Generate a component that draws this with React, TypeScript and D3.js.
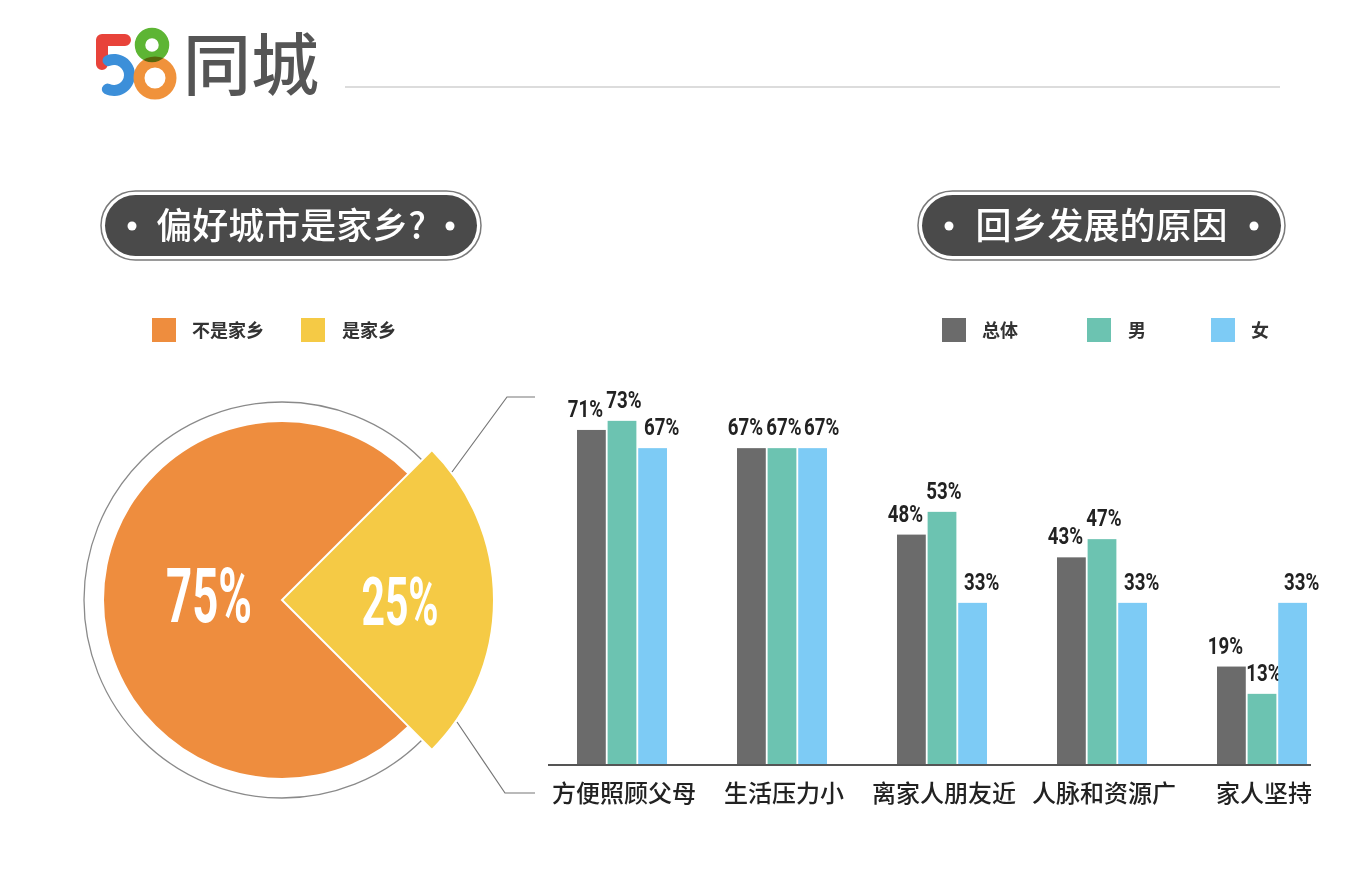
import React, { useRef, useEffect } from "react";
import * as d3 from "d3";

// pie: preferred city is hometown?
const pieLabels = ["不是家乡", "是家乡"];
const pieValues = [75, 25];
const pieColors = ["#ee8d3e", "#f5ca45"];

// bars: reasons for going back home
const categories = ["方便照顾父母", "生活压力小", "离家人朋友近", "人脉和资源广", "家人坚持"];
const seriesNames = ["总体", "男", "女"];
const seriesColors = ["#6b6b6b", "#6cc3b1", "#7dcbf5"];
const totalValues = [71, 67, 48, 43, 19];
const maleValues = [73, 67, 53, 47, 13];
const femaleValues = [67, 67, 33, 33, 33];

const NUM_FONT = "'Roboto', 'DejaVu Sans', sans-serif";
const CJK_FONT = "'Noto Sans CJK SC', 'Noto Sans', sans-serif";

type Sel = d3.Selection<any, unknown, null, undefined>;

// condensed number text: squeeze horizontally around its anchor
function numText(parent: Sel, x: number, y: number, txt: string, size: number, sx: number, fill: string, weight = "bold") {
    parent.append("g")
        .attr("transform", `translate(${x},${y}) scale(${sx},1)`)
        .append("text")
        .attr("text-anchor", "middle")
        .attr("font-family", NUM_FONT)
        .attr("font-weight", weight)
        .attr("font-size", size)
        .attr("fill", fill)
        .text(txt);
}

export default function App() {
    const svgRef = useRef<SVGSVGElement | null>(null);

    useEffect(() => {
        if (!svgRef.current) return;
        const width = 1368;
        const height = 878;
        const svg = d3.select(svgRef.current);
        svg.selectAll("*").remove();

        svg.append("rect").attr("width", width).attr("height", height).attr("fill", "#fff");

        // ---------- logo ----------
        const logo = svg.append("g");
        // "5": red L on top, blue bowl below
        logo.append("path")
            .attr("d", "M125,40 L102,40 L102,64")
            .attr("fill", "none").attr("stroke", "#e8433a").attr("stroke-width", 12)
            .attr("stroke-linecap", "round").attr("stroke-linejoin", "round");
        const bowl = d3.arc<any>().innerRadius(10).outerRadius(21).cornerRadius(5);
        logo.append("path")
            .attr("transform", "translate(114,75)")
            .attr("d", bowl({ startAngle: (-42 * Math.PI) / 180, endAngle: (225 * Math.PI) / 180 }) as string)
            .attr("fill", "#3c8fd9");
        // "8": orange bottom ring, green top ring
        logo.append("circle").attr("cx", 155).attr("cy", 78).attr("r", 16)
            .attr("fill", "none").attr("stroke", "#f0923b").attr("stroke-width", 11);
        logo.append("circle").attr("cx", 152).attr("cy", 45).attr("r", 12)
            .attr("fill", "none").attr("stroke", "#5db534").attr("stroke-width", 10.5)
            .style("mix-blend-mode", "multiply");
        logo.append("text")
            .attr("x", 183).attr("y", 90)
            .attr("font-family", CJK_FONT)
            .attr("font-weight", 500)
            .attr("font-size", 68)
            .attr("fill", "#555")
            .text("同城");
        svg.append("line")
            .attr("x1", 345).attr("x2", 1280).attr("y1", 87).attr("y2", 87)
            .attr("stroke", "#d0d0d0").attr("stroke-width", 1.5);

        // ---------- header pills ----------
        const pills = [
            { text: "偏好城市是家乡?", x: 101, w: 380 },
            { text: "回乡发展的原因", x: 918, w: 367 },
        ];
        pills.forEach((p) => {
            const g = svg.append("g");
            g.append("rect")
                .attr("x", p.x).attr("y", 191).attr("width", p.w).attr("height", 69)
                .attr("rx", 34.5).attr("fill", "#fff").attr("stroke", "#7a7a7a").attr("stroke-width", 1.5);
            g.append("rect")
                .attr("x", p.x + 4).attr("y", 195).attr("width", p.w - 8).attr("height", 61)
                .attr("rx", 30.5).attr("fill", "#4a4a4a");
            g.append("circle").attr("cx", p.x + 31).attr("cy", 226).attr("r", 4.5).attr("fill", "#fff");
            g.append("circle").attr("cx", p.x + p.w - 31).attr("cy", 226).attr("r", 4.5).attr("fill", "#fff");
            g.append("text")
                .attr("x", p.x + p.w / 2).attr("y", 239)
                .attr("text-anchor", "middle")
                .attr("font-family", CJK_FONT)
                .attr("font-weight", 500)
                .attr("font-size", 36)
                .attr("fill", "#fff")
                .text(p.text);
        });

        // ---------- legends ----------
        const legendL = [
            { x: 152, tx: 192 },
            { x: 301, tx: 342 },
        ];
        pieLabels.forEach((lab, i) => {
            svg.append("rect").attr("x", legendL[i].x).attr("y", 318).attr("width", 24).attr("height", 24)
                .attr("fill", pieColors[i]);
            svg.append("text").attr("x", legendL[i].tx).attr("y", 337)
                .attr("font-family", CJK_FONT).attr("font-weight", "bold").attr("font-size", 18)
                .attr("fill", "#333").text(lab);
        });
        const legendR = [
            { x: 942, tx: 982 },
            { x: 1087, tx: 1128 },
            { x: 1211, tx: 1251 },
        ];
        seriesNames.forEach((lab, i) => {
            svg.append("rect").attr("x", legendR[i].x).attr("y", 318).attr("width", 24).attr("height", 24)
                .attr("fill", seriesColors[i]);
            svg.append("text").attr("x", legendR[i].tx).attr("y", 337)
                .attr("font-family", CJK_FONT).attr("font-weight", "bold").attr("font-size", 18)
                .attr("fill", "#333").text(lab);
        });

        // ---------- pie ----------
        const cx = 282;
        const cy = 600;
        const pieG = svg.append("g").attr("transform", `translate(${cx},${cy})`);
        const pie = d3.pie<number>().sort(null)
            .startAngle((3 * Math.PI) / 4)
            .endAngle((3 * Math.PI) / 4 + 2 * Math.PI);
        const arcs = pie(pieValues);
        const radii = [178, 212];

        pieG.append("circle").attr("r", 198).attr("fill", "none")
            .attr("stroke", "#8a8a8a").attr("stroke-width", 1.3);

        arcs.forEach((a, i) => {
            const arcGen = d3.arc<d3.PieArcDatum<number>>().innerRadius(0).outerRadius(radii[i]);
            pieG.append("path").attr("d", arcGen(a) as string)
                .attr("fill", pieColors[i])
                .attr("stroke", "#fff").attr("stroke-width", i === 1 ? 2 : 0);
        });

        const pieLabelPos = [
            { x: 209 - cx, y: 622 - cy, size: 76, sx: 0.6 },
            { x: 400 - cx, y: 625 - cy, size: 66, sx: 0.62 },
        ];
        arcs.forEach((a, i) => {
            const p = pieLabelPos[i];
            numText(pieG, p.x, p.y, `${a.data}%`, p.size, p.sx, "#fff");
        });

        // leader lines from yellow slice to bar chart
        const lead = d3.line();
        svg.append("path")
            .attr("d", lead([[452, 472], [507, 397], [535, 397]]) as string)
            .attr("fill", "none").attr("stroke", "#777").attr("stroke-width", 1.2);
        svg.append("path")
            .attr("d", lead([[457, 722], [505, 793], [535, 793]]) as string)
            .attr("fill", "none").attr("stroke", "#777").attr("stroke-width", 1.2);

        // ---------- bars ----------
        const series = [totalValues, maleValues, femaleValues];
        const baseY = 765;
        const x0 = d3.scaleBand<string>().domain(categories)
            .range([577, 577 + 160 * (5 - 0.4375)]).paddingInner(0.4375).paddingOuter(0);
        const x1 = d3.scaleBand<string>().domain(seriesNames).range([0, x0.bandwidth()]).paddingInner(0.06);
        const y = d3.scaleLinear().domain([0, 100]).range([753, 298]);
        const labelShift = [-6, 2, 9];

        categories.forEach((cat, ci) => {
            const g = svg.append("g").attr("transform", `translate(${x0(cat)},0)`);
            seriesNames.forEach((s, si) => {
                const v = series[si][ci];
                const bx = x1(s) as number;
                g.append("rect")
                    .attr("x", bx).attr("y", y(v))
                    .attr("width", x1.bandwidth()).attr("height", baseY - y(v))
                    .attr("fill", seriesColors[si]);
                numText(g, bx + x1.bandwidth() / 2 + labelShift[si], y(v) - 13, `${v}%`, 24, 0.78, "#222", "bold");
            });
            svg.append("text")
                .attr("x", (x0(cat) as number) + x0.bandwidth() / 2 + 2).attr("y", 802)
                .attr("text-anchor", "middle")
                .attr("font-family", CJK_FONT)
                .attr("font-weight", 500)
                .attr("font-size", 24)
                .attr("fill", "#222")
                .text(cat);
        });

        svg.append("line")
            .attr("x1", 548).attr("x2", 1311).attr("y1", baseY).attr("y2", baseY)
            .attr("stroke", "#555").attr("stroke-width", 2);
    }, []);

    return (
        <svg
            ref={svgRef}
            width={1368}
            height={878}
            style={{ position: "absolute", left: 0, top: 0, display: "block" }}
        ></svg>
    );
}
